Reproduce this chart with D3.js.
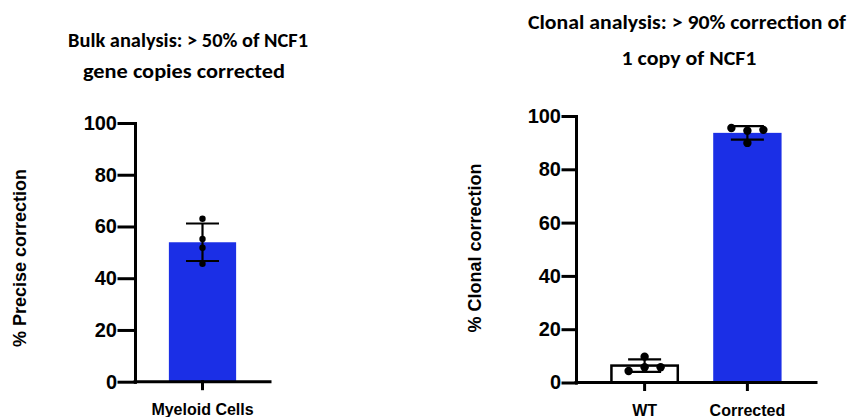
<!DOCTYPE html>
<html>
<head>
<meta charset="utf-8">
<script src="https://cdn.jsdelivr.net/npm/d3@7"></script>
<style>
  html, body { margin: 0; padding: 0; background: #fff; }
  svg { display: block; }
  .axis path, .axis line { stroke: #000; stroke-width: 3; stroke-linecap: square; }
  .axis text { font-family: "Liberation Sans", Arial, sans-serif; font-weight: bold; fill: #000; }
  .ttl { font-family: Carlito, "Open Sans", "Liberation Sans", sans-serif; font-weight: bold; fill: #000; }
  .ylab { font-family: "Liberation Sans", Arial, sans-serif; font-weight: bold; font-size: 18px; fill: #000; }
</style>
</head>
<body>
<script>
// ---- data ----
const bulkCategories = ["Myeloid Cells"];
const bulkValues = [[63.0, 55.2, 51.8, 45.6]];
const clonalCategories = ["WT", "Corrected"];
const clonalValues = [[9.7, 5.7, 4.3, 5.7], [94.5, 89.9, 95.5, 94.8]];
const yTicks = [0, 20, 40, 60, 80, 100];
const bulkTitle = ["Bulk analysis: > 50% of NCF1", "gene copies corrected"];
const clonalTitle = ["Clonal analysis: > 90% correction of", "1 copy of NCF1"];
const bulkYLabel = "% Precise correction";
const clonalYLabel = "% Clonal correction";

const W = 854, H = 417;
const BLUE = "#1b2fe6";
const svg = d3.select("body").append("svg").attr("width", W).attr("height", H);

function panel(cfg) {
  const g = svg.append("g");
  const x = d3.scaleBand().domain(cfg.categories).range(cfg.xRange).padding(0.335);
  const y = d3.scaleLinear().domain([0, 100]).range(cfg.yRange);

  // bars
  cfg.values.forEach((vals, i) => {
    const cat = cfg.categories[i];
    const m = d3.mean(vals);
    const sd = d3.deviation(vals);
    const filled = cfg.fills[i];
    g.append("rect")
      .attr("x", x(cat) + (filled ? 0 : 1))
      .attr("width", x.bandwidth() - (filled ? 0 : 2))
      .attr("y", y(m))
      .attr("height", y(0) - y(m))
      .attr("fill", filled ? BLUE : "#fff")
      .attr("stroke", filled ? "none" : "#000")
      .attr("stroke-width", filled ? 0 : 2.5);
    const cx = x(cat) + x.bandwidth() / 2;
    const cap = 16.5;
    const eg = g.append("g").attr("stroke", "#000").attr("stroke-width", 2.2);
    eg.append("line").attr("x1", cx).attr("x2", cx).attr("y1", y(m + sd)).attr("y2", y(m - sd));
    eg.append("line").attr("x1", cx - cap).attr("x2", cx + cap).attr("y1", y(m + sd)).attr("y2", y(m + sd));
    eg.append("line").attr("x1", cx - cap).attr("x2", cx + cap).attr("y1", y(m - sd)).attr("y2", y(m - sd));

    // simple swarm placement
    const placed = [];
    const r = cfg.r, minD = 2 * r + 2, step = 16;
    const slots = [0, -step, step, -2 * step, 2 * step];
    vals.forEach(v => {
      const py = y(v);
      let px = cx;
      for (const s of slots) {
        const tx = cx + s;
        if (placed.every(p => Math.hypot(p[0] - tx, p[1] - py) >= minD)) { px = tx; break; }
      }
      placed.push([px, py]);
    });
    g.selectAll(null).data(placed).enter().append("circle")
      .attr("cx", d => d[0]).attr("cy", d => d[1]).attr("r", r).attr("fill", "#000");
  });

  // y axis
  const ya = g.append("g").attr("class", "axis").attr("transform", `translate(${cfg.xRange[0]},0)`)
    .call(d3.axisLeft(y).tickValues(yTicks).tickSize(cfg.tickLen).tickSizeOuter(0).tickPadding(cfg.tickPad));
  ya.selectAll("text").attr("font-size", 20);
  // x axis
  const xa = g.append("g").attr("class", "axis").attr("transform", `translate(0,${cfg.yRange[0]})`)
    .call(d3.axisBottom(x).tickSize(7).tickSizeOuter(0).tickPadding(12));
  xa.select(".domain").attr("d", `M${cfg.xRange[0]},0H${cfg.xRange[1]}`);
  xa.selectAll("text").attr("font-size", 16).attr("dy", null).attr("y", 33);

  // y label
  g.append("text").attr("class", "ylab")
    .attr("transform", `translate(${cfg.ylabX},${cfg.ylabY}) rotate(-90)`)
    .attr("text-anchor", "middle").attr("dy", "0.35em").text(cfg.ylabel);

  // title
  cfg.title.forEach((t, i) => {
    g.append("text").attr("class", "ttl")
      .attr("x", cfg.titleX[i]).attr("y", cfg.titleY[i])
      .attr("text-anchor", "middle").attr("font-size", 21)
      .attr("textLength", cfg.titleW[i]).attr("lengthAdjust", "spacingAndGlyphs")
      .text(t);
  });
}

panel({
  categories: bulkCategories, values: bulkValues, fills: [true],
  xRange: [135, 270], yRange: [381.7, 123], r: 3.2, tickLen: 16, tickPad: 2,
  ylabel: bulkYLabel, ylabX: 20, ylabY: 258,
  title: bulkTitle, titleX: [188, 184], titleY: [47, 78], titleW: [240, 202]
});
panel({
  categories: clonalCategories, values: clonalValues, fills: [false, true],
  xRange: [576, 816], yRange: [382.5, 116], r: 4.2, tickLen: 13, tickPad: 2,
  ylabel: clonalYLabel, ylabX: 475, ylabY: 248,
  title: clonalTitle, titleX: [687, 689], titleY: [28.5, 65], titleW: [318, 135]
});
</script>
</body>
</html>
